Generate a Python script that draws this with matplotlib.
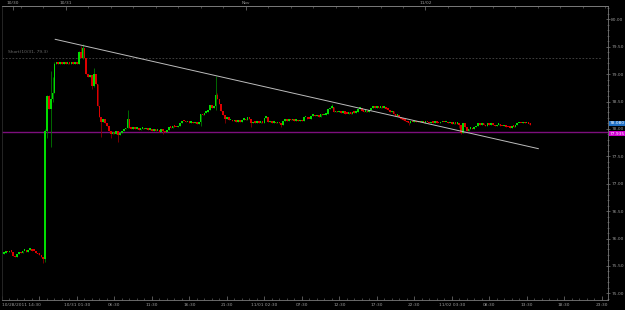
import matplotlib
matplotlib.use("Agg")
import matplotlib.pyplot as plt
import matplotlib.transforms as mtransforms
import numpy as np

# 15-minute USD/JPY candles, closes (open = previous close)
first_open = 75.72
closes = [
    75.74, 75.76, 75.75, 75.77, 75.76, 75.69, 75.66, 75.72, 75.75, 75.73,
    75.77, 75.78, 75.76, 75.79, 75.80, 75.78, 75.77, 75.74, 75.71, 75.70,
    75.66, 75.62, 77.97, 78.60, 78.36, 78.55, 78.66, 79.19, 79.20, 79.19,
    79.20, 79.19, 79.20, 79.19, 79.20, 79.19, 79.20, 79.19, 79.20, 79.19,
    79.40, 79.30, 79.48, 79.30, 79.00, 78.95, 78.98, 78.78, 79.00, 78.82,
    78.42, 78.22, 78.13, 78.18, 78.10, 78.06, 77.97, 77.90, 77.95, 77.91,
    77.96, 77.88, 77.93, 77.96, 77.99, 78.02, 78.19, 78.02, 78.00, 78.02,
    78.00, 78.01, 77.98, 78.00, 78.02, 77.99, 78.01, 77.98, 78.00, 77.97,
    77.99, 77.96, 77.97, 77.95, 77.99, 77.96, 77.94, 77.98, 78.03, 78.02,
    78.05, 78.04, 78.03, 78.06, 78.10, 78.15, 78.14, 78.12, 78.13, 78.11,
    78.13, 78.10, 78.12, 78.09, 78.12, 78.28, 78.25, 78.29, 78.31, 78.34,
    78.43, 78.38, 78.41, 78.62, 78.55, 78.45, 78.32, 78.26, 78.18, 78.22,
    78.16, 78.17, 78.14, 78.17, 78.13, 78.15, 78.13, 78.17, 78.18, 78.16,
    78.22, 78.19, 78.10, 78.13, 78.11, 78.13, 78.11, 78.13, 78.11, 78.20,
    78.21, 78.12, 78.14, 78.11, 78.12, 78.10, 78.12, 78.10, 78.08, 78.15,
    78.17, 78.15, 78.18, 78.16, 78.18, 78.15, 78.17, 78.14, 78.16, 78.14,
    78.21, 78.22, 78.19, 78.18, 78.24, 78.26, 78.23, 78.25, 78.22, 78.27,
    78.25, 78.26, 78.28, 78.36, 78.38, 78.40, 78.30, 78.32, 78.30, 78.32,
    78.29, 78.32, 78.28, 78.27, 78.30, 78.28, 78.31, 78.29, 78.31, 78.37,
    78.38, 78.33, 78.31, 78.33, 78.30, 78.34, 78.38, 78.40, 78.38, 78.40,
    78.38, 78.40, 78.38, 78.40, 78.37, 78.35, 78.30, 78.32, 78.27, 78.24,
    78.26, 78.22, 78.18, 78.17, 78.15, 78.12, 78.11, 78.13, 78.12, 78.14,
    78.12, 78.14, 78.12, 78.12, 78.11, 78.13, 78.12, 78.10, 78.12, 78.11,
    78.13, 78.11, 78.10, 78.12, 78.13, 78.12, 78.13, 78.10, 78.11, 78.09,
    78.10, 78.09, 78.11, 78.07, 77.93, 78.11, 78.03, 77.96, 78.00, 78.01,
    77.99, 78.03, 78.05, 78.10, 78.07, 78.11, 78.07, 78.05, 78.11, 78.08,
    78.10, 78.07, 78.05, 78.08, 78.09, 78.06, 78.05, 78.07, 78.04, 78.03,
    78.02, 78.05, 78.04, 78.07, 78.10, 78.11, 78.10, 78.12, 78.10, 78.11,
    78.09, 78.08,
]

# visible wicks (bar index -> price); other bars show only the body
wick_high = {22: 78.00, 23: 78.62, 24: 78.62, 25: 79.05, 26: 78.95, 27: 79.22,
             40: 79.42, 41: 79.52, 42: 79.55, 43: 79.45, 48: 79.12, 66: 78.34,
             113: 78.96, 114: 78.66, 175: 78.45}
wick_low = {21: 75.55, 22: 75.58, 23: 77.83, 25: 77.67, 26: 78.50, 42: 79.28,
            47: 78.72, 48: 78.76, 52: 77.85, 57: 77.83, 61: 77.76, 85: 77.90,
            105: 78.06, 113: 78.35, 118: 78.10, 132: 78.04, 148: 78.04,
            216: 78.07, 243: 78.02, 244: 77.91}

# trend line end points (hours on the compressed axis, price)
trend_hours = [7.1, 71.55]
trend_prices = [79.635, 77.64]

short_level = 79.29
short_text = "Short(10/31, 79.3)"
alert_level = 77.935
alert_text = "77.935"
last_price = 78.08
last_text = "78.080"

bottom_tick_hours = [0, 5, 10, 15, 20, 25, 30, 35, 40, 45, 50, 55, 60, 65, 70, 75, 80]
bottom_tick_labels = ["10/28/2011 14:30", "", "10/31 01:30", "06:30", "11:30", "16:30",
                      "21:30", "11/01 02:30", "07:30", "12:30", "17:30", "22:30",
                      "11/02 03:30", "08:30", "13:30", "18:30", "23:30"]
top_tick_hours = [1.5, 8.5, 32.5, 56.5]
top_tick_labels = ["10/30", "10/31", "Nov", "11/02"]

bg = "black"
axis_col = "#7a7a7a"
text_col = "#9a9a9a"
up_col = "#00dd00"
down_col = "#dd0000"
small = 3.2

fig = plt.figure(figsize=(6.25, 3.1), dpi=100, facecolor=bg)
ax = fig.add_axes([2 / 625, 10 / 310, 606 / 625, 294 / 310], facecolor=bg)

n = len(closes)
hours = 0.25 * (np.arange(n) + 1)
opens = np.array([first_open] + closes[:-1])
cl = np.array(closes)
ups = cl >= opens

# wicks
for i in range(n):
    hi = wick_high.get(i, max(opens[i], cl[i]))
    lo = wick_low.get(i, min(opens[i], cl[i]))
    if hi > lo:
        ax.vlines(hours[i], lo, hi, color="#007a00" if ups[i] else "#8a0000", lw=0.6, zorder=2)

# bodies
bottoms = np.minimum(opens, cl)
heights = np.maximum(np.abs(cl - opens), 0.03)
ax.bar(hours, heights, bottom=bottoms, width=0.22, linewidth=0,
       color=np.where(ups, up_col, down_col), zorder=3)

# reference lines
ax.axhline(alert_level, color="#7d0f7d", lw=1.0, zorder=1)
ax.plot([0, 80.1], [short_level, short_level], color="#4a4a4a", lw=0.6, ls=(0, (2, 2)), zorder=1)
ax.text(0.8, short_level + 0.07, short_text, color="#6a6a6a", fontsize=small, va="bottom", ha="left")
ax.plot(trend_hours, trend_prices, color="#bdbdbd", lw=0.7, zorder=4)

ax.set_xlim(0.04, 80.85)
ax.set_ylim(74.878, 80.243)

# axes styling
for side in ["left", "top", "bottom", "right"]:
    ax.spines[side].set_color(axis_col)
    ax.spines[side].set_linewidth(0.6)
ax.spines["left"].set_color("#2a2a2a")

ax.yaxis.tick_right()
ax.set_yticks(np.arange(75.0, 80.01, 0.5))
ax.set_yticklabels([f"{v:.2f}" for v in np.arange(75.0, 80.01, 0.5)])
ax.set_yticks(np.arange(74.9, 80.25, 0.1), minor=True)
ax.tick_params(axis="y", which="major", colors=axis_col, labelcolor=text_col, labelsize=small,
               length=3, width=0.5, direction="inout", pad=0.8)
ax.tick_params(axis="y", which="minor", colors=axis_col, length=1.5, width=0.4, direction="inout")

ax.set_xticks(bottom_tick_hours)
ax.set_xticklabels(bottom_tick_labels)
ax.set_xticks(np.arange(1, 81, 1), minor=True)
ax.tick_params(axis="x", which="major", colors=axis_col, labelcolor=text_col, labelsize=small,
               length=3, width=0.5, direction="in", pad=2)
ax.tick_params(axis="x", which="minor", colors=axis_col, length=1.5, width=0.4, direction="in")
ax.get_xticklabels()[0].set_horizontalalignment("left")

top = ax.secondary_xaxis("top")
top.set_xticks(top_tick_hours)
top.set_xticklabels(top_tick_labels)
top.set_xticks(np.arange(2.5, 81, 3), minor=True)
top.tick_params(axis="x", which="major", colors=axis_col, labelcolor=text_col, labelsize=small,
                length=3, width=0.5, direction="in", pad=0.5)
top.tick_params(axis="x", which="minor", colors=axis_col, length=1.5, width=0.4, direction="in")
top.spines["top"].set_color(axis_col)
top.spines["top"].set_linewidth(0.6)

# price tags on the right axis
trans = mtransforms.blended_transform_factory(ax.transAxes, ax.transData)
ax.text(1.003, last_price + 0.02, last_text, transform=trans, fontsize=small, color="white",
        va="center", ha="left", bbox=dict(boxstyle="square,pad=0.12", fc="#1f6fc4", ec="none"))
ax.text(1.003, alert_level - 0.02, alert_text, transform=trans, fontsize=small, color="white",
        va="center", ha="left", bbox=dict(boxstyle="square,pad=0.12", fc="#d000d0", ec="none"))

fig.savefig("out.png", dpi=100, facecolor=bg)
